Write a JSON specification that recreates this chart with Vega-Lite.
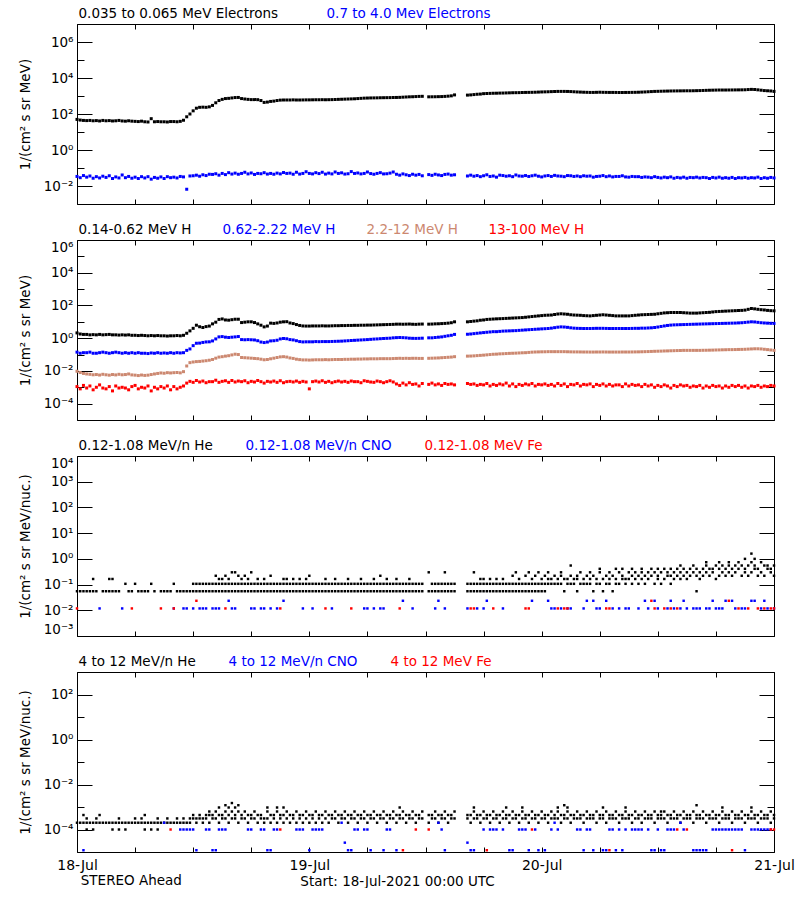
{
"$schema": "https://vega.github.io/schema/vega-lite/v6.json",
"padding": {"left": 17, "top": 6, "right": 0, "bottom": 0},
"background": "#ffffff",
"spacing": 36,
"bounds": "flush",
"title": {"text": "STEREO Ahead", "orient": "bottom", "anchor": "start", "offset": -14, "dx": 63, "font": "DejaVu Sans", "fontSize": 13.5, "fontWeight": "normal", "color": "#000000"},
"resolve": {"scale": {"color": "independent"}, "legend": {"color": "independent"}},
"datasets": {"d": [
{"t":"2021-07-18T00:00","a":50,"b":0.034,"c":2.1,"d":0.14,"e":0.0095,"f":0.0011,"g":0.055,"m":0.0118,"p":0.0002},
{"t":"2021-07-18T00:20","a":46,"b":0.029,"c":1.8,"d":0.12,"e":0.008,"f":0.0008,"g":0.055,"p":0.0002},
{"t":"2021-07-18T00:40","a":44,"b":0.038,"c":1.7,"d":0.13,"e":0.007,"f":0.0013,"g":0.055,"p":0.0002,"p2":0.00044,"q":0.000012},
{"t":"2021-07-18T01:00","a":43,"b":0.031,"c":1.7,"d":0.13,"e":0.0065,"f":0.0009,"g":0.055,"p":0.0002,"p2":0.00031,"p3":0.0001},
{"t":"2021-07-18T01:20","a":44,"b":0.036,"c":1.6,"d":0.14,"e":0.0062,"f":0.0012,"g":0.055,"p":0.0002},
{"t":"2021-07-18T01:40","a":42,"b":0.027,"c":1.65,"d":0.12,"e":0.0058,"f":0.0007,"g":0.055,"g2":0.165,"p":0.0002,"p3":0.0001},
{"t":"2021-07-18T02:00","a":43,"b":0.033,"c":1.6,"d":0.12,"e":0.006,"f":0.001,"g":0.055,"p":0.0002,"p2":0.00031},
{"t":"2021-07-18T02:20","a":41,"b":0.028,"c":1.7,"d":0.13,"e":0.0056,"f":0.0014,"k":0.0118,"p":0.0002,"p2":0.00044},
{"t":"2021-07-18T02:40","a":44,"b":0.035,"c":1.6,"d":0.14,"e":0.0062,"f":0.0009,"g":0.055,"p":0.0002},
{"t":"2021-07-18T03:00","a":42,"b":0.03,"c":1.65,"d":0.13,"e":0.0058,"f":0.0008,"g":0.055,"p":0.0002},
{"t":"2021-07-18T03:20","a":43,"b":0.037,"c":1.7,"d":0.12,"e":0.0055,"f":0.0011,"g":0.055,"g2":0.165,"p":0.0002},
{"t":"2021-07-18T03:40","a":41,"b":0.026,"c":1.6,"d":0.13,"e":0.006,"f":0.0006,"g":0.055,"g2":0.165,"p":0.0002,"p3":0.0001},
{"t":"2021-07-18T04:00","a":42,"b":0.032,"c":1.6,"d":0.14,"e":0.0057,"f":0.0012,"g":0.055,"p":0.0002},
{"t":"2021-07-18T04:20","a":44,"b":0.028,"c":1.55,"d":0.13,"e":0.0062,"f":0.0009,"g":0.055,"p":0.0002,"p2":0.00031,"p3":0.0001},
{"t":"2021-07-18T04:40","a":41,"b":0.041,"c":1.6,"d":0.12,"e":0.0058,"f":0.001,"k":0.0118,"p":0.0002},
{"t":"2021-07-18T05:00","a":40,"b":0.029,"c":1.55,"d":0.13,"e":0.006,"f":0.0009,"g":0.107,"p":0.0002,"p3":0.0001},
{"t":"2021-07-18T05:20","a":42,"b":0.034,"c":1.6,"d":0.12,"e":0.0065,"f":0.0007,"g":0.055,"p":0.0002},
{"t":"2021-07-18T05:40","a":40,"b":0.027,"c":1.5,"d":0.13,"e":0.0057,"f":0.0011,"g":0.055,"m":0.0118,"p":0.0002},
{"t":"2021-07-18T06:00","a":39,"b":0.031,"c":1.5,"d":0.12,"e":0.0055,"f":0.0013,"g":0.107,"p":0.0002,"p2":0.00031},
{"t":"2021-07-18T06:20","a":38,"b":0.026,"c":1.45,"d":0.13,"e":0.0052,"f":0.0008,"g":0.055,"p":0.0002},
{"t":"2021-07-18T06:40","a":40,"b":0.033,"c":1.5,"d":0.12,"e":0.0056,"f":0.001,"g":0.055,"p":0.0002,"p2":0.00031},
{"t":"2021-07-18T07:00","a":37,"b":0.028,"c":1.45,"d":0.12,"e":0.0053,"f":0.0009,"g":0.055,"p":0.0002,"p2":0.00044,"p3":0.0001},
{"t":"2021-07-18T07:20","a":36,"b":0.033,"c":1.4,"d":0.115,"e":0.0055,"f":0.0012,"g":0.055,"p":0.0002},
{"t":"2021-07-18T07:40","a":55,"b":0.024,"c":1.45,"d":0.125,"e":0.006,"f":0.0006,"g":0.107,"p":0.0002,"p3":0.0001},
{"t":"2021-07-18T08:00","a":37,"b":0.03,"c":1.4,"d":0.12,"e":0.0065,"f":0.001,"g":0.055,"p":0.0002},
{"t":"2021-07-18T08:20","a":38,"b":0.027,"c":1.45,"d":0.13,"e":0.007,"f":0.0008,"p":0.0002,"p2":0.00031,"p3":0.0001},
{"t":"2021-07-18T08:40","a":37,"b":0.032,"c":1.4,"d":0.12,"e":0.0075,"f":0.0011,"g":0.055,"m":0.0118,"p":0.0002},
{"t":"2021-07-18T09:00","a":37,"b":0.026,"c":1.4,"d":0.125,"e":0.0072,"f":0.0009,"g":0.055,"p":0.0002,"q":0.0002},
{"t":"2021-07-18T09:20","a":36,"b":0.033,"c":1.35,"d":0.12,"e":0.0078,"f":0.0012,"g":0.055,"p":0.0002,"p2":0.00031},
{"t":"2021-07-18T09:40","a":38,"b":0.029,"c":1.4,"d":0.13,"e":0.0075,"f":0.0007,"g":0.055,"p":0.0002,"r":0.0001},
{"t":"2021-07-18T10:00","a":38,"b":0.031,"c":1.4,"d":0.12,"e":0.0078,"f":0.0011,"g":0.107,"k":0.0118,"m":0.0118,"p":0.0002},
{"t":"2021-07-18T10:20","a":37,"b":0.028,"c":1.45,"d":0.13,"e":0.008,"f":0.0008,"g":0.055,"p":0.0002,"p2":0.00031},
{"t":"2021-07-18T10:40","a":39,"b":0.034,"c":1.4,"d":0.125,"e":0.0076,"f":0.001,"g":0.055,"p":0.0002,"q":0.0001},
{"t":"2021-07-18T11:00","a":45,"b":0.032,"c":1.5,"d":0.13,"e":0.009,"f":0.0012,"g":0.055,"k":0.0118,"p":0.0002,"p2":0.00031,"q":0.0001},
{"t":"2021-07-18T11:20","a":70,"b":0.0066,"c":2.0,"d":0.18,"e":0.02,"f":0.0018,"g":0.055,"k":0.0118,"p":0.0002,"q":0.0001},
{"t":"2021-07-18T11:40","a":100,"b":0.036,"c":2.8,"d":0.22,"e":0.032,"f":0.0023,"g":0.055,"p":0.0002,"p2":0.00031,"q":0.0001},
{"t":"2021-07-18T12:00","a":150,"b":0.037,"c":4,"d":0.35,"e":0.035,"f":0.002,"g":0.055,"g2":0.107,"k":0.0118,"p":0.00031,"p2":0.00044,"q":0.0001},
{"t":"2021-07-18T12:20","a":210,"b":0.04,"c":6.2,"d":0.49,"e":0.037,"f":0.0026,"g":0.055,"g2":0.107,"m":0.0234,"p":0.0002,"p2":0.00031,"q":0.000012},
{"t":"2021-07-18T12:40","a":235,"b":0.035,"c":5,"d":0.5,"e":0.038,"f":0.0021,"g":0.055,"g2":0.107,"k":0.0118,"p":0.00031,"p2":0.00044},
{"t":"2021-07-18T13:00","a":240,"b":0.042,"c":4.5,"d":0.55,"e":0.04,"f":0.0024,"g":0.055,"g2":0.107,"k":0.0118,"p":0.0002,"p2":0.00031},
{"t":"2021-07-18T13:20","a":235,"b":0.038,"c":5.1,"d":0.59,"e":0.042,"f":0.0019,"g":0.055,"g2":0.107,"k":0.0118,"p":0.00031,"p2":0.00044,"q":0.0001},
{"t":"2021-07-18T13:40","a":250,"b":0.045,"c":5.5,"d":0.6,"e":0.045,"f":0.0022,"g":0.055,"g2":0.107,"p":0.0002,"p2":0.00044,"p3":0.00063,"q":0.0001},
{"t":"2021-07-18T14:00","a":300,"b":0.044,"c":7.5,"d":0.68,"e":0.05,"f":0.0022,"g":0.055,"g2":0.107,"k":0.0118,"p":0.00031,"p2":0.00044,"q":0.000012},
{"t":"2021-07-18T14:20","a":420,"b":0.048,"c":9.5,"d":0.9,"e":0.06,"f":0.0027,"g":0.055,"g2":0.107,"g3":0.22,"k":0.0118,"p":0.00031,"p2":0.00063,"q":0.000012},
{"t":"2021-07-18T14:40","a":560,"b":0.04,"c":14,"d":1.2,"e":0.07,"f":0.002,"g":0.055,"g2":0.107,"g3":0.165,"k":0.0118,"p":0.0002,"p2":0.00044,"p3":0.00095,"q":0.0001},
{"t":"2021-07-18T15:00","a":650,"b":0.05,"c":15,"d":1.25,"e":0.074,"f":0.0023,"g":0.055,"g2":0.107,"g3":0.165,"p":0.00031,"p2":0.00044,"q":0.0001},
{"t":"2021-07-18T15:20","a":720,"b":0.043,"c":13,"d":1.15,"e":0.08,"f":0.0025,"g":0.055,"g2":0.107,"g3":0.22,"m":0.0118,"p":0.00031,"p2":0.00063,"p3":0.0012,"q":0.0001},
{"t":"2021-07-18T15:40","a":740,"b":0.055,"c":12.6,"d":1.1,"e":0.085,"f":0.002,"g":0.055,"g2":0.107,"g3":0.165,"k":0.0234,"p":0.0002,"p2":0.00044,"p3":0.00095},
{"t":"2021-07-18T16:00","a":780,"b":0.046,"c":13.5,"d":1.15,"e":0.095,"f":0.0026,"g":0.055,"g2":0.107,"g3":0.3,"k":0.0118,"p":0.00031,"p2":0.00063,"p3":0.0015},
{"t":"2021-07-18T16:20","a":820,"b":0.052,"c":14.4,"d":1.2,"e":0.105,"f":0.0021,"g":0.055,"g2":0.107,"g3":0.3,"k":0.0118,"p":0.00031,"p2":0.00044,"p3":0.00095},
{"t":"2021-07-18T16:40","a":830,"b":0.045,"c":14.4,"d":1.26,"e":0.1,"f":0.0024,"g":0.055,"g2":0.107,"g3":0.22,"p":0.0002,"p2":0.00063,"p3":0.0012},
{"t":"2021-07-18T17:00","a":720,"b":0.05,"c":9,"d":0.82,"e":0.066,"f":0.0022,"g":0.055,"g2":0.107,"g3":0.165,"p":0.00031,"p2":0.00044},
{"t":"2021-07-18T17:20","a":680,"b":0.058,"c":9.5,"d":0.8,"e":0.064,"f":0.0025,"g":0.055,"g2":0.107,"g3":0.22,"p":0.00031,"p2":0.00063},
{"t":"2021-07-18T17:40","a":650,"b":0.047,"c":10,"d":0.82,"e":0.062,"f":0.0019,"g":0.055,"g2":0.107,"g3":0.165,"p":0.0002,"p2":0.00044,"q":0.0001},
{"t":"2021-07-18T18:00","a":630,"b":0.053,"c":10,"d":0.8,"e":0.06,"f":0.0023,"g":0.055,"g2":0.107,"g3":0.3,"k":0.0118,"p":0.00031,"p2":0.00044,"q":0.0001},
{"t":"2021-07-18T18:20","a":630,"b":0.044,"c":9,"d":0.78,"e":0.058,"f":0.0021,"g":0.055,"g2":0.107,"k":0.0118,"p":0.00031,"p2":0.00063},
{"t":"2021-07-18T18:40","a":625,"b":0.05,"c":7.5,"d":0.7,"e":0.056,"f":0.0026,"g":0.055,"g2":0.107,"g3":0.165,"p":0.0002,"p2":0.00044},
{"t":"2021-07-18T19:00","a":560,"b":0.048,"c":6.2,"d":0.58,"e":0.052,"f":0.0022,"g":0.055,"g2":0.107,"k":0.0118,"p":0.00031,"p2":0.00044,"q":0.0001},
{"t":"2021-07-18T19:20","a":440,"b":0.055,"c":4.9,"d":0.54,"e":0.048,"f":0.0018,"g":0.055,"g2":0.107,"g3":0.165,"k":0.0118,"p":0.0002,"p2":0.00031,"q":0.0001},
{"t":"2021-07-18T19:40","a":460,"b":0.046,"c":5.5,"d":0.58,"e":0.05,"f":0.0023,"g":0.055,"g2":0.107,"p":0.00031,"p2":0.00063,"p3":0.00095,"q":0.000012},
{"t":"2021-07-18T20:00","a":500,"b":0.05,"c":8.3,"d":0.68,"e":0.055,"f":0.0021,"g":0.055,"g2":0.107,"g3":0.22,"k":0.0118,"p":0.0002,"p2":0.00044,"q":0.000012},
{"t":"2021-07-18T20:20","a":520,"b":0.045,"c":8,"d":0.7,"e":0.06,"f":0.0024,"g":0.055,"g2":0.107,"p":0.00031,"p2":0.00044,"q":0.0001},
{"t":"2021-07-18T20:40","a":560,"b":0.052,"c":8.5,"d":0.75,"e":0.066,"f":0.002,"g":0.055,"g2":0.107,"k":0.0118,"p":0.0002,"p2":0.00063,"p3":0.00095,"q":0.0001},
{"t":"2021-07-18T21:00","a":590,"b":0.047,"c":9.5,"d":0.9,"e":0.072,"f":0.0025,"g":0.055,"g2":0.107,"m":0.0118,"p":0.00031,"p2":0.00044,"r":0.0001},
{"t":"2021-07-18T21:20","a":600,"b":0.056,"c":10,"d":0.96,"e":0.074,"f":0.0019,"g":0.055,"g2":0.107,"g3":0.165,"k":0.0234,"p":0.0002,"p2":0.00044,"p3":0.00095},
{"t":"2021-07-18T21:40","a":600,"b":0.05,"c":10.2,"d":0.92,"e":0.07,"f":0.0022,"g":0.055,"g2":0.107,"g3":0.165,"p":0.00031,"p2":0.00063},
{"t":"2021-07-18T22:00","a":600,"b":0.052,"c":8.5,"d":0.82,"e":0.062,"f":0.0023,"g":0.055,"g2":0.107,"p":0.0002,"p2":0.00044},
{"t":"2021-07-18T22:20","a":610,"b":0.045,"c":7.8,"d":0.78,"e":0.058,"f":0.0021,"g":0.055,"g2":0.107,"g3":0.165,"p":0.00031,"p2":0.00044},
{"t":"2021-07-18T22:40","a":600,"b":0.058,"c":6.8,"d":0.7,"e":0.052,"f":0.0024,"g":0.055,"g2":0.107,"p":0.0002,"p2":0.00063,"q":0.0001},
{"t":"2021-07-18T23:00","a":600,"b":0.046,"c":6,"d":0.62,"e":0.049,"f":0.002,"g":0.055,"g2":0.107,"g3":0.165,"p":0.00031,"p2":0.00044,"q":0.0001},
{"t":"2021-07-18T23:20","a":605,"b":0.05,"c":5.6,"d":0.59,"e":0.047,"f":0.0023,"g":0.055,"g2":0.107,"k":0.0118,"p":0.0002,"p2":0.00044,"q":0.0001},
{"t":"2021-07-18T23:40","a":610,"b":0.062,"c":5.5,"d":0.6,"e":0.047,"f":0.0021,"g":0.055,"g2":0.107,"g3":0.165,"p":0.00031,"p2":0.00063},
{"t":"2021-07-19T00:00","a":610,"b":0.05,"c":5.5,"d":0.6,"e":0.046,"f":0.0008,"g":0.055,"g2":0.107,"g3":0.22,"p":0.0002,"p2":0.00044,"q":0.000012},
{"t":"2021-07-19T00:20","a":615,"b":0.047,"c":5.6,"d":0.6,"e":0.047,"f":0.0022,"g":0.055,"g2":0.107,"k":0.0118,"p":0.00031,"p2":0.00044,"q":0.0001},
{"t":"2021-07-19T00:40","a":620,"b":0.055,"c":5.6,"d":0.62,"e":0.048,"f":0.0024,"g":0.055,"g2":0.107,"p":0.0002,"p2":0.00063,"q":0.0001},
{"t":"2021-07-19T01:00","a":620,"b":0.049,"c":5.6,"d":0.61,"e":0.048,"f":0.0021,"g":0.055,"g2":0.107,"p":0.00031,"p2":0.00044,"q":0.0001},
{"t":"2021-07-19T01:20","a":625,"b":0.058,"c":5.7,"d":0.62,"e":0.048,"f":0.0025,"g":0.055,"g2":0.107,"p":0.0002,"p2":0.00044,"q":0.0001},
{"t":"2021-07-19T01:40","a":620,"b":0.046,"c":5.6,"d":0.62,"e":0.049,"f":0.002,"g":0.055,"g2":0.107,"g3":0.165,"m":0.0118,"p":0.00031,"p2":0.00063},
{"t":"2021-07-19T02:00","a":625,"b":0.052,"c":5.6,"d":0.62,"e":0.048,"f":0.0023,"g":0.055,"g2":0.107,"p":0.0002,"p2":0.00044},
{"t":"2021-07-19T02:20","a":630,"b":0.047,"c":5.7,"d":0.63,"e":0.049,"f":0.0019,"g":0.055,"g2":0.107,"k":0.0118,"p":0.00031,"p2":0.00044},
{"t":"2021-07-19T02:40","a":640,"b":0.06,"c":5.8,"d":0.64,"e":0.05,"f":0.0022,"g":0.055,"g2":0.107,"g3":0.165,"p":0.00031,"p2":0.00063},
{"t":"2021-07-19T03:00","a":650,"b":0.05,"c":5.8,"d":0.65,"e":0.05,"f":0.0024,"g":0.055,"g2":0.107,"p":0.0002,"p2":0.00044},
{"t":"2021-07-19T03:20","a":660,"b":0.054,"c":5.9,"d":0.66,"e":0.05,"f":0.0021,"g":0.055,"g2":0.107,"p":0.00031,"p2":0.00044,"q":0.0002},
{"t":"2021-07-19T03:40","a":670,"b":0.046,"c":5.9,"d":0.68,"e":0.051,"f":0.0023,"g":0.055,"g2":0.107,"p":0.00031,"p2":0.00063,"q":0.000026},
{"t":"2021-07-19T04:00","a":680,"b":0.048,"c":6,"d":0.7,"e":0.051,"f":0.002,"g":0.055,"g2":0.107,"g3":0.165,"p":0.0002,"p2":0.00044,"q":0.000012},
{"t":"2021-07-19T04:20","a":690,"b":0.063,"c":6,"d":0.72,"e":0.052,"f":0.0024,"g":0.055,"g2":0.107,"m":0.0118,"p":0.00031,"p2":0.00044,"q":0.000012},
{"t":"2021-07-19T04:40","a":700,"b":0.05,"c":6.1,"d":0.74,"e":0.052,"f":0.0022,"g":0.055,"g2":0.107,"p":0.00031,"p2":0.00063,"q":0.0001},
{"t":"2021-07-19T05:00","a":720,"b":0.053,"c":6.1,"d":0.76,"e":0.053,"f":0.0022,"g":0.055,"g2":0.107,"p":0.0002,"p2":0.00044,"q":0.0001},
{"t":"2021-07-19T05:20","a":740,"b":0.047,"c":6.2,"d":0.78,"e":0.053,"f":0.0019,"g":0.055,"g2":0.107,"g3":0.165,"p":0.00031,"p2":0.00044},
{"t":"2021-07-19T05:40","a":760,"b":0.05,"c":6.2,"d":0.8,"e":0.054,"f":0.0025,"g":0.055,"g2":0.107,"k":0.0118,"p":0.00031,"p2":0.00063,"q":0.0001},
{"t":"2021-07-19T06:00","a":770,"b":0.06,"c":6.3,"d":0.82,"e":0.054,"f":0.0023,"g":0.055,"g2":0.107,"k":0.0118,"p":0.0002,"p2":0.00044,"q":0.0001},
{"t":"2021-07-19T06:20","a":780,"b":0.049,"c":6.3,"d":0.85,"e":0.055,"f":0.0021,"g":0.055,"g2":0.107,"p":0.00031,"p2":0.00044,"q":0.000012},
{"t":"2021-07-19T06:40","a":785,"b":0.045,"c":6.4,"d":0.88,"e":0.055,"f":0.002,"g":0.055,"g2":0.107,"g3":0.165,"k":0.0118,"p":0.00031,"p2":0.00063},
{"t":"2021-07-19T07:00","a":790,"b":0.05,"c":6.5,"d":0.9,"e":0.055,"f":0.0024,"g":0.055,"g2":0.107,"p":0.0002,"p2":0.00044},
{"t":"2021-07-19T07:20","a":800,"b":0.055,"c":6.6,"d":0.93,"e":0.056,"f":0.0022,"g":0.055,"g2":0.107,"g3":0.22,"k":0.0118,"p":0.00031,"p2":0.00044},
{"t":"2021-07-19T07:40","a":805,"b":0.047,"c":6.7,"d":0.96,"e":0.056,"f":0.0019,"g":0.055,"g2":0.107,"k":0.0118,"p":0.00031,"p2":0.00063,"q":0.000012},
{"t":"2021-07-19T08:00","a":810,"b":0.048,"c":6.8,"d":0.98,"e":0.056,"f":0.0022,"g":0.055,"g2":0.107,"g3":0.165,"p":0.0002,"p2":0.00044,"q":0.0001},
{"t":"2021-07-19T08:20","a":815,"b":0.052,"c":6.9,"d":1,"e":0.056,"f":0.0025,"g":0.055,"g2":0.107,"p":0.00031,"p2":0.00044,"q":0.0001},
{"t":"2021-07-19T08:40","a":825,"b":0.06,"c":7,"d":1.05,"e":0.057,"f":0.0021,"g":0.055,"g2":0.107,"p":0.00031,"p2":0.00063},
{"t":"2021-07-19T09:00","a":830,"b":0.045,"c":7.2,"d":1.08,"e":0.058,"f":0.0016,"g":0.055,"g2":0.107,"g3":0.165,"p":0.0002,"p2":0.00044,"q":0.000012},
{"t":"2021-07-19T09:20","a":840,"b":0.04,"c":7.2,"d":1.1,"e":0.059,"f":0.0013,"g":0.055,"g2":0.107,"m":0.0118,"p":0.00031,"p2":0.00044,"p3":0.00095},
{"t":"2021-07-19T09:40","a":860,"b":0.047,"c":7.1,"d":1.08,"e":0.058,"f":0.0018,"g":0.055,"g2":0.107,"k":0.0234,"p":0.00031,"p2":0.00063,"r":0.000012},
{"t":"2021-07-19T10:00","a":880,"b":0.042,"c":7.2,"d":1.05,"e":0.059,"f":0.0014,"g":0.055,"g2":0.107,"p":0.0002,"p2":0.00044},
{"t":"2021-07-19T10:20","a":900,"b":0.038,"c":7.3,"d":1,"e":0.058,"f":0.0019,"g":0.055,"g2":0.107,"g3":0.165,"p":0.00031,"p2":0.00044},
{"t":"2021-07-19T10:40","a":910,"b":0.045,"c":7.1,"d":0.98,"e":0.059,"f":0.0015,"g":0.055,"g2":0.107,"k":0.0118,"p":0.00031,"p2":0.00063},
{"t":"2021-07-19T11:00","a":930,"b":0.04,"c":7,"d":0.97,"e":0.059,"f":0.0016,"g":0.055,"g2":0.107,"p":0.0002,"p2":0.00044,"r":0.0001},
{"t":"2021-07-19T11:20","a":950,"b":0.044,"c":7.2,"d":0.98,"e":0.058,"f":0.0012,"g":0.055,"g2":0.107,"p":0.00031,"p2":0.00044},
{"t":"2021-07-19T11:40","a":960,"b":0.037,"c":7.3,"d":1,"e":0.058,"f":0.0017,"g":0.055,"g2":0.107,"p":0.00031,"p2":0.00063},
{"t":"2021-07-19T12:20","a":900,"b":0.043,"c":7.2,"d":1.05,"e":0.059,"f":0.0015,"g":0.055,"g2":0.3,"p":0.0002,"p2":0.00044,"r":0.0001},
{"t":"2021-07-19T12:40","a":905,"b":0.039,"c":7.3,"d":1.05,"e":0.06,"f":0.0018,"g":0.055,"g2":0.107,"p":0.00031,"p2":0.00044},
{"t":"2021-07-19T13:00","a":910,"b":0.045,"c":7.5,"d":1.1,"e":0.061,"f":0.0014,"g":0.055,"g2":0.107,"k":0.0118,"p":0.00031,"p2":0.00063},
{"t":"2021-07-19T13:20","a":920,"b":0.041,"c":7.6,"d":1.15,"e":0.062,"f":0.0016,"g":0.055,"g2":0.107,"k":0.0234,"p":0.0002,"p2":0.00044,"q":0.0002},
{"t":"2021-07-19T13:40","a":930,"b":0.038,"c":7.8,"d":1.2,"e":0.064,"f":0.0013,"g":0.055,"g2":0.107,"p":0.00031,"p2":0.00044,"q":0.0001},
{"t":"2021-07-19T14:00","a":950,"b":0.044,"c":8,"d":1.3,"e":0.066,"f":0.0017,"g":0.055,"g2":0.107,"g3":0.3,"k":0.0118,"p":0.00031,"p2":0.00063,"q":0.000012},
{"t":"2021-07-19T14:20","a":980,"b":0.046,"c":8.3,"d":1.4,"e":0.068,"f":0.0015,"g":0.055,"g2":0.107,"p":0.0002,"p2":0.00044},
{"t":"2021-07-19T14:40","a":1020,"b":0.04,"c":8.8,"d":1.5,"e":0.07,"f":0.0016,"g":0.055,"g2":0.107,"p":0.00031,"p2":0.00044},
{"t":"2021-07-19T15:00","a":1150,"b":0.042,"c":10,"d":1.7,"e":0.074,"f":0.0014,"g":0.055,"g2":0.107,"p":0.00031,"p2":0.00063},
{"t":"2021-07-19T16:20","a":1120,"b":0.036,"c":10,"d":1.74,"e":0.08,"f":0.0017,"g":0.055,"g2":0.107,"k":0.0118,"p":0.00031,"p2":0.00044,"q":0.000026},
{"t":"2021-07-19T16:40","a":1150,"b":0.04,"c":10.5,"d":1.8,"e":0.081,"f":0.0015,"g":0.055,"g2":0.107,"m":0.0118,"p":0.0002,"p2":0.00044,"q":0.000012},
{"t":"2021-07-19T17:00","a":1200,"b":0.035,"c":11,"d":1.9,"e":0.083,"f":0.0016,"g":0.055,"g2":0.107,"g3":0.3,"m":0.0118,"p":0.00031,"p2":0.00063,"p3":0.00095,"q":0.000012},
{"t":"2021-07-19T17:20","a":1250,"b":0.038,"c":11.5,"d":2,"e":0.086,"f":0.0013,"g":0.055,"g2":0.107,"k":0.0118,"p":0.00031,"p2":0.00044},
{"t":"2021-07-19T17:40","a":1280,"b":0.033,"c":12.5,"d":2.1,"e":0.089,"f":0.0015,"g":0.055,"g2":0.107,"g3":0.165,"p":0.0002,"p2":0.00044},
{"t":"2021-07-19T18:00","a":1350,"b":0.037,"c":13,"d":2.2,"e":0.092,"f":0.0014,"g":0.055,"g2":0.107,"g3":0.165,"k":0.0118,"p":0.00031,"p2":0.00063,"q":0.0001},
{"t":"2021-07-19T18:20","a":1380,"b":0.042,"c":14,"d":2.3,"e":0.096,"f":0.0017,"g":0.055,"g2":0.107,"k":0.0234,"p":0.00031,"p2":0.00044,"r":0.000012},
{"t":"2021-07-19T18:40","a":1400,"b":0.034,"c":14.4,"d":2.4,"e":0.1,"f":0.0012,"g":0.055,"g2":0.107,"g3":0.165,"p":0.0002,"p2":0.00044,"q":0.0001},
{"t":"2021-07-19T19:00","a":1420,"b":0.036,"c":14.8,"d":2.5,"e":0.104,"f":0.0015,"g":0.055,"g2":0.107,"m":0.0118,"p":0.00031,"p2":0.00063,"q":0.0001},
{"t":"2021-07-19T19:20","a":1430,"b":0.031,"c":15.2,"d":2.5,"e":0.106,"f":0.0013,"g":0.055,"g2":0.107,"g3":0.165,"p":0.00031,"p2":0.00044,"q":0.0001},
{"t":"2021-07-19T19:40","a":1450,"b":0.04,"c":15.5,"d":2.6,"e":0.11,"f":0.0016,"g":0.055,"g2":0.107,"p":0.0002,"p2":0.00044},
{"t":"2021-07-19T20:00","a":1460,"b":0.038,"c":15.8,"d":2.7,"e":0.112,"f":0.0014,"g":0.055,"g2":0.107,"g3":0.165,"k":0.0118,"p":0.00031,"p2":0.00063,"q":0.0001},
{"t":"2021-07-19T20:20","a":1480,"b":0.035,"c":16.2,"d":2.75,"e":0.115,"f":0.0018,"g":0.055,"g2":0.107,"p":0.00031,"p2":0.00044,"p3":0.00095},
{"t":"2021-07-19T20:40","a":1500,"b":0.037,"c":16.6,"d":2.8,"e":0.118,"f":0.0012,"g":0.055,"g2":0.107,"p":0.0002,"p2":0.00044,"q":0.000012},
{"t":"2021-07-19T21:00","a":1520,"b":0.033,"c":17,"d":2.85,"e":0.12,"f":0.0016,"g":0.055,"g2":0.107,"g3":0.22,"p":0.00031,"p2":0.00063,"q":0.000012},
{"t":"2021-07-19T21:20","a":1530,"b":0.041,"c":17.4,"d":2.9,"e":0.122,"f":0.0011,"g":0.055,"g2":0.107,"g3":0.3,"p":0.00031,"p2":0.00044},
{"t":"2021-07-19T21:40","a":1540,"b":0.036,"c":17.8,"d":3,"e":0.125,"f":0.0015,"g":0.055,"g2":0.107,"g3":0.165,"p":0.0002,"p2":0.00044,"q":0.0001},
{"t":"2021-07-19T22:00","a":1560,"b":0.035,"c":18.2,"d":3.1,"e":0.128,"f":0.0013,"g":0.055,"g2":0.107,"p":0.00031,"p2":0.00063,"p3":0.00095,"q":0.0001},
{"t":"2021-07-19T22:20","a":1580,"b":0.038,"c":19,"d":3.2,"e":0.13,"f":0.0016,"g":0.055,"g2":0.107,"g3":0.22,"m":0.0118,"p":0.00031,"p2":0.00044,"q":0.0001},
{"t":"2021-07-19T22:40","a":1590,"b":0.034,"c":20,"d":3.3,"e":0.135,"f":0.0014,"g":0.055,"g2":0.107,"g3":0.3,"m":0.0118,"p":0.0002,"p2":0.00044,"q":0.000012},
{"t":"2021-07-19T23:00","a":1600,"b":0.037,"c":21,"d":3.4,"e":0.14,"f":0.0017,"g":0.055,"g2":0.107,"g3":0.165,"k":0.0234,"p":0.00031,"p2":0.00063,"r":0.0001},
{"t":"2021-07-19T23:20","a":1620,"b":0.04,"c":22,"d":3.5,"e":0.143,"f":0.0012,"g":0.055,"g2":0.107,"g3":0.22,"p":0.00031,"p2":0.00044,"q":0.0001},
{"t":"2021-07-19T23:40","a":1650,"b":0.035,"c":23,"d":3.6,"e":0.145,"f":0.0015,"g":0.055,"g2":0.107,"g3":0.3,"p":0.0002,"p2":0.00044,"q":0.000012},
{"t":"2021-07-20T00:00","a":1680,"b":0.032,"c":24,"d":3.7,"e":0.147,"f":0.0014,"g":0.055,"g2":0.107,"g3":0.165,"p":0.00031,"p2":0.00063},
{"t":"2021-07-20T00:20","a":1700,"b":0.036,"c":25,"d":3.8,"e":0.148,"f":0.0016,"g":0.055,"g2":0.107,"g3":0.22,"p":0.00031,"p2":0.00044,"q":0.000012},
{"t":"2021-07-20T00:40","a":1720,"b":0.038,"c":25.5,"d":3.9,"e":0.15,"f":0.0013,"g":0.107,"g2":0.165,"g3":0.3,"k":0.0234,"p":0.0002,"p2":0.00044},
{"t":"2021-07-20T01:00","a":1750,"b":0.034,"c":26,"d":4.1,"e":0.15,"f":0.0015,"g":0.107,"g2":0.165,"k":0.0118,"p":0.00031,"p2":0.00063,"q":0.0001},
{"t":"2021-07-20T01:20","a":1780,"b":0.039,"c":28,"d":4.4,"e":0.15,"f":0.0012,"g":0.107,"g2":0.22,"k":0.0118,"p":0.00031,"p2":0.00044,"q":0.0002},
{"t":"2021-07-20T01:40","a":1800,"b":0.036,"c":30,"d":4.7,"e":0.15,"f":0.0017,"g":0.107,"g2":0.165,"m":0.0118,"p":0.00031,"p2":0.00063,"p3":0.00095,"q":0.0001},
{"t":"2021-07-20T02:00","a":1800,"b":0.035,"c":31,"d":4.9,"e":0.15,"f":0.0013,"g":0.107,"g2":0.22,"g3":0.3,"k":0.0118,"p":0.0002,"p2":0.00044},
{"t":"2021-07-20T02:20","a":1800,"b":0.033,"c":30,"d":4.8,"e":0.15,"f":0.0016,"g":0.055,"g2":0.165,"m":0.0118,"p":0.00031,"p2":0.00044,"p3":0.0012},
{"t":"2021-07-20T02:40","a":1790,"b":0.038,"c":29,"d":4.6,"e":0.148,"f":0.0011,"g":0.107,"g2":0.165,"k":0.0118,"m":0.0118,"p":0.00031,"p2":0.00063,"p3":0.00095},
{"t":"2021-07-20T03:00","a":1760,"b":0.037,"c":27,"d":4.3,"e":0.146,"f":0.0015,"g":0.107,"g2":0.22,"g3":0.55,"k":0.0118,"p":0.0002,"p2":0.00044},
{"t":"2021-07-20T03:20","a":1720,"b":0.034,"c":26,"d":4.1,"e":0.145,"f":0.0014,"g":0.107,"g2":0.165,"p":0.00031,"p2":0.00044},
{"t":"2021-07-20T03:40","a":1680,"b":0.036,"c":25.5,"d":4,"e":0.145,"f":0.0017,"g":0.055,"g2":0.165,"g3":0.22,"p":0.00031,"p2":0.00063,"q":0.0001},
{"t":"2021-07-20T04:00","a":1650,"b":0.033,"c":25,"d":3.95,"e":0.144,"f":0.0012,"g":0.107,"g2":0.3,"p":0.00031,"p2":0.00044,"q":0.0001},
{"t":"2021-07-20T04:20","a":1620,"b":0.037,"c":24,"d":3.9,"e":0.143,"f":0.0015,"g":0.107,"g2":0.165,"k":0.0118,"p":0.0002,"p2":0.00044,"q":0.000012},
{"t":"2021-07-20T04:40","a":1600,"b":0.035,"c":23.5,"d":3.9,"e":0.143,"f":0.0014,"g":0.107,"g2":0.22,"k":0.0234,"p":0.00031,"p2":0.00063,"q":0.0001},
{"t":"2021-07-20T05:00","a":1580,"b":0.036,"c":23,"d":3.9,"e":0.142,"f":0.0016,"g":0.107,"g2":0.165,"g3":0.3,"p":0.00031,"p2":0.00044,"q":0.0001},
{"t":"2021-07-20T05:20","a":1580,"b":0.031,"c":24,"d":3.95,"e":0.142,"f":0.0011,"g":0.055,"g2":0.22,"k":0.0234,"p":0.00031,"p2":0.00044,"q":0.000012},
{"t":"2021-07-20T05:40","a":1600,"b":0.034,"c":25,"d":4,"e":0.143,"f":0.0015,"g":0.107,"g2":0.165,"k":0.0118,"p":0.0002,"p2":0.00063},
{"t":"2021-07-20T06:00","a":1620,"b":0.035,"c":26,"d":4,"e":0.143,"f":0.0013,"g":0.107,"g2":0.3,"g3":0.41,"k":0.0118,"p":0.00031,"p2":0.00044},
{"t":"2021-07-20T06:20","a":1600,"b":0.038,"c":27,"d":4,"e":0.144,"f":0.0016,"g":0.055,"g2":0.165,"p":0.00031,"p2":0.00044,"p3":0.00095,"q":0.000012},
{"t":"2021-07-20T06:40","a":1590,"b":0.033,"c":26,"d":3.95,"e":0.143,"f":0.0012,"g":0.107,"g2":0.22,"k":0.0234,"m":0.0118,"p":0.0002,"p2":0.00063,"q":0.000012},
{"t":"2021-07-20T07:00","a":1580,"b":0.036,"c":25,"d":3.9,"e":0.142,"f":0.0015,"g":0.107,"g2":0.165,"g3":0.3,"m":0.0118,"p":0.00031,"p2":0.00044,"q":0.0001,"r":0.000012},
{"t":"2021-07-20T07:20","a":1580,"b":0.032,"c":24,"d":3.9,"e":0.142,"f":0.0012,"g":0.055,"g2":0.22,"k":0.0118,"p":0.00031,"p2":0.00044,"q":0.0001},
{"t":"2021-07-20T07:40","a":1575,"b":0.034,"c":23,"d":3.9,"e":0.142,"f":0.0014,"g":0.107,"g2":0.165,"g3":0.41,"p":0.00031,"p2":0.00063,"q":0.000012},
{"t":"2021-07-20T08:00","a":1570,"b":0.034,"c":23,"d":3.9,"e":0.142,"f":0.0014,"g":0.107,"g2":0.3,"k":0.0118,"p":0.0002,"p2":0.00044,"q":0.0001},
{"t":"2021-07-20T08:20","a":1570,"b":0.037,"c":23,"d":3.9,"e":0.143,"f":0.0011,"g":0.165,"g2":0.22,"g3":0.41,"p":0.00031,"p2":0.00044,"q":0.000012},
{"t":"2021-07-20T08:40","a":1575,"b":0.032,"c":23,"d":3.9,"e":0.143,"f":0.0016,"g":0.107,"g2":0.165,"k":0.0118,"p":0.00031,"p2":0.00063,"p3":0.00095,"q":0.0001},
{"t":"2021-07-20T09:00","a":1580,"b":0.031,"c":23,"d":3.9,"e":0.143,"f":0.0012,"g":0.165,"g2":0.3,"k":0.0118,"p":0.00031,"p2":0.00044},
{"t":"2021-07-20T09:20","a":1590,"b":0.034,"c":24,"d":3.95,"e":0.144,"f":0.0015,"g":0.107,"g2":0.22,"g3":0.41,"p":0.0002,"p2":0.00044,"q":0.0001},
{"t":"2021-07-20T09:40","a":1600,"b":0.033,"c":25,"d":4,"e":0.145,"f":0.0013,"g":0.165,"g2":0.3,"p":0.00031,"p2":0.00063,"q":0.0001},
{"t":"2021-07-20T10:00","a":1620,"b":0.033,"c":26,"d":4,"e":0.146,"f":0.0014,"g":0.107,"g2":0.22,"k":0.0118,"p":0.00031,"p2":0.00044,"q":0.0001},
{"t":"2021-07-20T10:20","a":1650,"b":0.03,"c":27,"d":4.1,"e":0.148,"f":0.0011,"g":0.165,"g2":0.3,"g3":0.41,"p":0.0002,"p2":0.00044,"q":0.0001},
{"t":"2021-07-20T10:40","a":1680,"b":0.032,"c":27.5,"d":4.1,"e":0.15,"f":0.0015,"g":0.107,"g2":0.22,"k":0.0234,"p":0.00031,"p2":0.00063},
{"t":"2021-07-20T11:00","a":1720,"b":0.031,"c":28,"d":4.2,"e":0.152,"f":0.0012,"g":0.165,"g2":0.3,"k":0.0118,"p":0.00031,"p2":0.00044,"q":0.0001},
{"t":"2021-07-20T11:20","a":1760,"b":0.029,"c":28.5,"d":4.3,"e":0.155,"f":0.0014,"g":0.22,"g2":0.41,"m":0.0234,"p":0.00031,"p2":0.00044,"q":0.000012},
{"t":"2021-07-20T11:40","a":1800,"b":0.033,"c":29,"d":4.5,"e":0.158,"f":0.001,"g":0.107,"g2":0.3,"k":0.0234,"m":0.0118,"p":0.0002,"p2":0.00063,"q":0.000012},
{"t":"2021-07-20T12:00","a":1820,"b":0.03,"c":31,"d":4.8,"e":0.16,"f":0.0013,"g":0.165,"g2":0.22,"g3":0.41,"k":0.0118,"p":0.00031,"p2":0.00044,"q":0.0001},
{"t":"2021-07-20T12:20","a":1840,"b":0.028,"c":33,"d":5.2,"e":0.162,"f":0.0011,"g":0.107,"g2":0.3,"p":0.00031,"p2":0.00044,"p3":0.00063,"q":0.000012},
{"t":"2021-07-20T12:40","a":1860,"b":0.031,"c":35,"d":5.6,"e":0.165,"f":0.0014,"g":0.165,"g2":0.41,"m":0.0118,"p":0.00031,"p2":0.00063,"q":0.000012},
{"t":"2021-07-20T13:00","a":1880,"b":0.029,"c":36,"d":6,"e":0.167,"f":0.0012,"g":0.22,"g2":0.3,"k":0.0118,"p":0.0002,"p2":0.00044,"q":0.0001},
{"t":"2021-07-20T13:20","a":1900,"b":0.032,"c":37,"d":6.3,"e":0.17,"f":0.0009,"g":0.107,"g2":0.22,"g3":0.41,"k":0.0234,"m":0.0118,"p":0.00031,"p2":0.00044,"q":0.0001},
{"t":"2021-07-20T13:40","a":1910,"b":0.027,"c":37,"d":6.5,"e":0.172,"f":0.0013,"g":0.165,"g2":0.3,"k":0.0118,"p":0.00031,"p2":0.00063,"q":0.0001},
{"t":"2021-07-20T14:00","a":1920,"b":0.03,"c":37,"d":6.6,"e":0.175,"f":0.0011,"g":0.22,"g2":0.41,"m":0.0118,"p":0.00031,"p2":0.00044,"r":0.0001},
{"t":"2021-07-20T14:20","a":1930,"b":0.028,"c":37,"d":6.7,"e":0.177,"f":0.0014,"g":0.165,"g2":0.3,"g3":0.55,"k":0.0118,"p":0.0002,"p2":0.00044,"q":0.0002},
{"t":"2021-07-20T14:40","a":1940,"b":0.031,"c":36,"d":6.8,"e":0.18,"f":0.0012,"g":0.22,"g2":0.41,"k":0.0234,"p":0.00031,"p2":0.00063,"q":0.0001},
{"t":"2021-07-20T15:00","a":1950,"b":0.027,"c":35,"d":6.9,"e":0.18,"f":0.0013,"g":0.165,"g2":0.3,"k":0.0118,"p":0.00031,"p2":0.00044,"r":0.0001},
{"t":"2021-07-20T15:20","a":1950,"b":0.03,"c":34,"d":7,"e":0.18,"f":0.001,"g":0.22,"g2":0.41,"p":0.00031,"p2":0.00044},
{"t":"2021-07-20T15:40","a":1960,"b":0.029,"c":34,"d":7.1,"e":0.18,"f":0.0012,"g":0.3,"g2":0.55,"k":0.0118,"p":0.0002,"p2":0.00063,"q":0.000012},
{"t":"2021-07-20T16:00","a":1980,"b":0.031,"c":34,"d":7.2,"e":0.18,"f":0.0011,"g":0.055,"g2":0.22,"g3":0.41,"k":0.0118,"p":0.00031,"p2":0.00044,"p3":0.0012,"q":0.000012},
{"t":"2021-07-20T16:20","a":2000,"b":0.028,"c":35,"d":7.3,"e":0.18,"f":0.0013,"g":0.165,"g2":0.3,"k":0.0118,"p":0.00031,"p2":0.00044,"q":0.000012},
{"t":"2021-07-20T16:40","a":2030,"b":0.03,"c":36,"d":7.4,"e":0.182,"f":0.0009,"g":0.22,"g2":0.41,"p":0.00031,"p2":0.00063,"q":0.000012},
{"t":"2021-07-20T17:00","a":2060,"b":0.029,"c":37,"d":7.5,"e":0.183,"f":0.0012,"g":0.3,"g2":0.55,"g3":0.74,"k":0.0118,"p":0.0002,"p2":0.00044,"q":0.000012},
{"t":"2021-07-20T17:20","a":2090,"b":0.026,"c":38,"d":7.6,"e":0.185,"f":0.001,"g":0.22,"g2":0.41,"k":0.0118,"p":0.00031,"p2":0.00044},
{"t":"2021-07-20T17:40","a":2110,"b":0.03,"c":40,"d":7.7,"e":0.187,"f":0.0013,"g":0.3,"g2":0.41,"k":0.0234,"p":0.00031,"p2":0.00063,"q":0.0001},
{"t":"2021-07-20T18:00","a":2130,"b":0.028,"c":42,"d":7.8,"e":0.19,"f":0.0011,"g":0.165,"g2":0.55,"k":0.0118,"p":0.00031,"p2":0.00044,"q":0.0001},
{"t":"2021-07-20T18:20","a":2150,"b":0.031,"c":43,"d":7.9,"e":0.192,"f":0.0012,"g":0.22,"g2":0.41,"g3":0.74,"k":0.0118,"p":0.0002,"p2":0.00044,"q":0.0001},
{"t":"2021-07-20T18:40","a":2150,"b":0.027,"c":44,"d":8,"e":0.195,"f":0.0009,"g":0.3,"g2":0.55,"k":0.0118,"p":0.00031,"p2":0.00063,"p3":0.00095,"q":0.0001},
{"t":"2021-07-20T19:00","a":2150,"b":0.029,"c":45,"d":8.1,"e":0.197,"f":0.0012,"g":0.22,"g2":0.41,"k":0.0234,"p":0.00031,"p2":0.00044,"q":0.0001},
{"t":"2021-07-20T19:20","a":2160,"b":0.027,"c":46,"d":8.2,"e":0.2,"f":0.001,"g":0.3,"g2":0.55,"g3":0.74,"m":0.0234,"p":0.00031,"p2":0.00044,"q":0.0001},
{"t":"2021-07-20T19:40","a":2170,"b":0.03,"c":47,"d":8.3,"e":0.2,"f":0.0013,"g":0.22,"g2":0.41,"k":0.0234,"p":0.0002,"p2":0.00063,"q":0.0001,"r":0.000012},
{"t":"2021-07-20T20:00","a":2180,"b":0.026,"c":48,"d":8.4,"e":0.202,"f":0.0011,"g":0.3,"g2":0.55,"k":0.0118,"p":0.00031,"p2":0.00044,"q":0.0001},
{"t":"2021-07-20T20:20","a":2190,"b":0.029,"c":49,"d":8.6,"e":0.205,"f":0.0013,"g":0.41,"g2":0.74,"m":0.0118,"p":0.00031,"p2":0.00044,"q":0.0001},
{"t":"2021-07-20T20:40","a":2200,"b":0.028,"c":50,"d":8.8,"e":0.207,"f":0.001,"g":0.22,"g2":0.55,"k":0.0118,"p":0.00031,"p2":0.00063,"q":0.0001},
{"t":"2021-07-20T21:00","a":2220,"b":0.03,"c":52,"d":9.2,"e":0.21,"f":0.0012,"g":0.3,"g2":0.41,"g3":1.0,"k":0.0118,"p":0.0002,"p2":0.00044,"q":0.000012},
{"t":"2021-07-20T21:20","a":2280,"b":0.027,"c":58,"d":9.6,"e":0.215,"f":0.0009,"g":0.22,"g2":0.55,"m":0.0118,"p":0.00031,"p2":0.00044},
{"t":"2021-07-20T21:40","a":2330,"b":0.029,"c":65,"d":10,"e":0.22,"f":0.0012,"g":0.3,"g2":0.74,"g3":1.6,"k":0.0234,"p":0.00031,"p2":0.00063,"p3":0.00095,"q":0.0001},
{"t":"2021-07-20T22:00","a":2300,"b":0.028,"c":62,"d":9.8,"e":0.225,"f":0.0011,"g":0.41,"g2":0.55,"g3":1.0,"k":0.0234,"p":0.00031,"p2":0.00044,"q":0.0001},
{"t":"2021-07-20T22:20","a":2200,"b":0.031,"c":58,"d":9.3,"e":0.225,"f":0.0013,"g":0.22,"g2":0.41,"m":0.0118,"p":0.0002,"p2":0.00044,"q":0.0001},
{"t":"2021-07-20T22:40","a":2100,"b":0.026,"c":55,"d":8.8,"e":0.22,"f":0.001,"g":0.3,"g2":0.74,"k":0.0118,"p":0.00031,"p2":0.00063,"q":0.0001},
{"t":"2021-07-20T23:00","a":2000,"b":0.029,"c":53,"d":8.5,"e":0.21,"f":0.0012,"g":0.22,"g2":0.55,"k":0.0234,"m":0.0118,"p":0.00031,"p2":0.00044,"q":0.0001},
{"t":"2021-07-20T23:20","a":1950,"b":0.027,"c":50,"d":8.3,"e":0.2,"f":0.0011,"g":0.41,"g2":0.55,"k":0.0118,"p":0.00031,"p2":0.00044,"q":0.0001},
{"t":"2021-07-20T23:40","a":1900,"b":0.03,"c":48,"d":8.1,"e":0.19,"f":0.0013,"g":0.3,"g2":0.41,"m":0.0118,"p":0.0002,"p2":0.00063,"q":0.0001,"r":0.0001},
{"t":"2021-07-21T00:00","a":1800,"b":0.028,"c":47,"d":8,"e":0.18,"f":0.0012,"g":0.22,"g2":0.55,"k":0.0118,"m":0.0118,"p":0.00031,"p2":0.00044,"r":0.0001}
]},
"vconcat": [
{
 "width": 697, "height": 180,
 "data": {"name": "d"},
 "transform": [{"fold": ["a","b"], "as": ["s","v"]}, {"filter": "isValid(datum.v) && datum.v > 0"}],
 "resolve": {"axis": {"x": "independent", "y": "independent"}},
 "layer": [
  {"mark": {"type": "square", "size": 9, "opacity": 1},
   "encoding": {
    "x": {"field": "t", "type": "temporal", "scale": {"domain": [{"year":2021,"month":7,"date":18},{"year":2021,"month":7,"date":21}]},
          "axis": {"orient": "bottom", "labels": false, "title": null, "tickSize": -5, "values": [{"year":2021,"month":7,"date":18,"hours":0},{"year":2021,"month":7,"date":18,"hours":6},{"year":2021,"month":7,"date":18,"hours":12},{"year":2021,"month":7,"date":18,"hours":18},{"year":2021,"month":7,"date":19,"hours":0},{"year":2021,"month":7,"date":19,"hours":6},{"year":2021,"month":7,"date":19,"hours":12},{"year":2021,"month":7,"date":19,"hours":18},{"year":2021,"month":7,"date":20,"hours":0},{"year":2021,"month":7,"date":20,"hours":6},{"year":2021,"month":7,"date":20,"hours":12},{"year":2021,"month":7,"date":20,"hours":18},{"year":2021,"month":7,"date":21,"hours":0}]}},
    "y": {"field": "v", "type": "quantitative", "scale": {"type": "log", "domain": [0.001, 10000000], "nice": false},
          "axis": {"orient": "left", "values": [0.001,0.01,0.1,1,10,100,1000,10000,100000,1000000,10000000], "title": "1/(cm² s sr MeV)", "titlePadding": 11, "labelPadding": 19, "labelFlush": true, "labelOverlap": false,
                   "tickSize": {"condition": {"test": "abs(round(log(datum.value)/LN10)) % 2 == 0", "value": -15}, "value": -7},
                   "labelExpr": "abs(round(log(datum.value)/LN10)) % 2 == 1 ? '' : '10' + replace(replace(replace(replace(replace(replace(replace(replace(toString(round(log(datum.value)/LN10)), '-', '⁻'), '0', '⁰'), '1', '¹'), '2', '²'), '3', '³'), '4', '⁴'), '5', '⁵'), '6', '⁶')"}},
    "color": {"field": "s", "type": "nominal", "scale": {"domain": ["a","b"], "range": ["#000000","#0000ff"]},
              "legend": {"title": null, "orient": "none", "legendX": -12, "legendY": -17, "direction": "horizontal", "columnPadding": 34, "labelFontSize": 13.5, "labelLimit": 400, "symbolOpacity": 0, "symbolSize": 1, "labelOffset": 0,
                         "labelExpr": "datum.value == 'a' ? '0.035 to 0.065 MeV Electrons' : '0.7 to 4.0 Mev Electrons'", "labelColor": {"expr": "datum.value == 'b' ? '#0000ff' : '#000000'"}}}
   }},
  {"mark": {"type": "square", "size": 9, "opacity": 0},
   "encoding": {
    "x": {"field": "t", "type": "temporal", "scale": {"domain": [{"year":2021,"month":7,"date":18},{"year":2021,"month":7,"date":21}]},
          "axis": {"orient": "top", "labels": false, "title": null, "tickSize": -5, "values": [{"year":2021,"month":7,"date":18,"hours":0},{"year":2021,"month":7,"date":18,"hours":6},{"year":2021,"month":7,"date":18,"hours":12},{"year":2021,"month":7,"date":18,"hours":18},{"year":2021,"month":7,"date":19,"hours":0},{"year":2021,"month":7,"date":19,"hours":6},{"year":2021,"month":7,"date":19,"hours":12},{"year":2021,"month":7,"date":19,"hours":18},{"year":2021,"month":7,"date":20,"hours":0},{"year":2021,"month":7,"date":20,"hours":6},{"year":2021,"month":7,"date":20,"hours":12},{"year":2021,"month":7,"date":20,"hours":18},{"year":2021,"month":7,"date":21,"hours":0}]}},
    "y": {"field": "v", "type": "quantitative", "scale": {"type": "log", "domain": [0.001, 10000000], "nice": false},
          "axis": {"orient": "right", "values": [0.001,0.01,0.1,1,10,100,1000,10000,100000,1000000,10000000], "labels": false, "title": null,
                   "tickSize": {"condition": {"test": "abs(round(log(datum.value)/LN10)) % 2 == 0", "value": -15}, "value": -7}}}
   }}
 ]
},
{
 "width": 697, "height": 180,
 "data": {"name": "d"},
 "transform": [{"fold": ["c","d","e","f"], "as": ["s","v"]}, {"filter": "isValid(datum.v) && datum.v > 0"}],
 "resolve": {"axis": {"x": "independent", "y": "independent"}},
 "layer": [
  {"mark": {"type": "square", "size": 9, "opacity": 1},
   "encoding": {
    "x": {"field": "t", "type": "temporal", "scale": {"domain": [{"year":2021,"month":7,"date":18},{"year":2021,"month":7,"date":21}]},
          "axis": {"orient": "bottom", "labels": false, "title": null, "tickSize": -5, "values": [{"year":2021,"month":7,"date":18,"hours":0},{"year":2021,"month":7,"date":18,"hours":6},{"year":2021,"month":7,"date":18,"hours":12},{"year":2021,"month":7,"date":18,"hours":18},{"year":2021,"month":7,"date":19,"hours":0},{"year":2021,"month":7,"date":19,"hours":6},{"year":2021,"month":7,"date":19,"hours":12},{"year":2021,"month":7,"date":19,"hours":18},{"year":2021,"month":7,"date":20,"hours":0},{"year":2021,"month":7,"date":20,"hours":6},{"year":2021,"month":7,"date":20,"hours":12},{"year":2021,"month":7,"date":20,"hours":18},{"year":2021,"month":7,"date":21,"hours":0}]}},
    "y": {"field": "v", "type": "quantitative", "scale": {"type": "log", "domain": [0.00001, 1000000], "nice": false},
          "axis": {"orient": "left", "values": [0.00001,0.0001,0.001,0.01,0.1,1,10,100,1000,10000,100000,1000000], "title": "1/(cm² s sr MeV)", "titlePadding": 11, "labelPadding": 19, "labelFlush": true, "labelOverlap": false,
                   "tickSize": {"condition": {"test": "abs(round(log(datum.value)/LN10)) % 2 == 0", "value": -15}, "value": -7},
                   "labelExpr": "abs(round(log(datum.value)/LN10)) % 2 == 1 ? '' : '10' + replace(replace(replace(replace(replace(replace(replace(replace(toString(round(log(datum.value)/LN10)), '-', '⁻'), '0', '⁰'), '1', '¹'), '2', '²'), '3', '³'), '4', '⁴'), '5', '⁵'), '6', '⁶')"}},
    "color": {"field": "s", "type": "nominal", "scale": {"domain": ["c","d","e","f"], "range": ["#000000","#0000ff","#cc8870","#ff0000"]},
              "legend": {"title": null, "orient": "none", "legendX": -12, "legendY": -17, "direction": "horizontal", "columnPadding": 17, "labelFontSize": 13.5, "labelLimit": 400, "symbolOpacity": 0, "symbolSize": 1, "labelOffset": 0,
                         "labelExpr": "datum.value == 'c' ? '0.14-0.62 MeV H' : datum.value == 'd' ? '0.62-2.22 MeV H' : datum.value == 'e' ? '2.2-12 MeV H' : '13-100 MeV H'", "labelColor": {"expr": "datum.value == 'd' ? '#0000ff' : datum.value == 'e' ? '#cc8870' : datum.value == 'f' ? '#ff0000' : '#000000'"}}}
   }},
  {"mark": {"type": "square", "size": 9, "opacity": 0},
   "encoding": {
    "x": {"field": "t", "type": "temporal", "scale": {"domain": [{"year":2021,"month":7,"date":18},{"year":2021,"month":7,"date":21}]},
          "axis": {"orient": "top", "labels": false, "title": null, "tickSize": -5, "values": [{"year":2021,"month":7,"date":18,"hours":0},{"year":2021,"month":7,"date":18,"hours":6},{"year":2021,"month":7,"date":18,"hours":12},{"year":2021,"month":7,"date":18,"hours":18},{"year":2021,"month":7,"date":19,"hours":0},{"year":2021,"month":7,"date":19,"hours":6},{"year":2021,"month":7,"date":19,"hours":12},{"year":2021,"month":7,"date":19,"hours":18},{"year":2021,"month":7,"date":20,"hours":0},{"year":2021,"month":7,"date":20,"hours":6},{"year":2021,"month":7,"date":20,"hours":12},{"year":2021,"month":7,"date":20,"hours":18},{"year":2021,"month":7,"date":21,"hours":0}]}},
    "y": {"field": "v", "type": "quantitative", "scale": {"type": "log", "domain": [0.00001, 1000000], "nice": false},
          "axis": {"orient": "right", "values": [0.00001,0.0001,0.001,0.01,0.1,1,10,100,1000,10000,100000,1000000], "labels": false, "title": null,
                   "tickSize": {"condition": {"test": "abs(round(log(datum.value)/LN10)) % 2 == 0", "value": -15}, "value": -7}}}
   }}
 ]
},
{
 "width": 697, "height": 180,
 "data": {"name": "d"},
 "transform": [{"fold": ["g","g2","g3","k","m"], "as": ["s","v"]}, {"filter": "isValid(datum.v) && datum.v > 0"}],
 "resolve": {"axis": {"x": "independent", "y": "independent"}},
 "layer": [
  {"mark": {"type": "square", "size": 6, "opacity": 1},
   "encoding": {
    "x": {"field": "t", "type": "temporal", "scale": {"domain": [{"year":2021,"month":7,"date":18},{"year":2021,"month":7,"date":21}]},
          "axis": {"orient": "bottom", "labels": false, "title": null, "tickSize": -5, "values": [{"year":2021,"month":7,"date":18,"hours":0},{"year":2021,"month":7,"date":18,"hours":6},{"year":2021,"month":7,"date":18,"hours":12},{"year":2021,"month":7,"date":18,"hours":18},{"year":2021,"month":7,"date":19,"hours":0},{"year":2021,"month":7,"date":19,"hours":6},{"year":2021,"month":7,"date":19,"hours":12},{"year":2021,"month":7,"date":19,"hours":18},{"year":2021,"month":7,"date":20,"hours":0},{"year":2021,"month":7,"date":20,"hours":6},{"year":2021,"month":7,"date":20,"hours":12},{"year":2021,"month":7,"date":20,"hours":18},{"year":2021,"month":7,"date":21,"hours":0}]}},
    "y": {"field": "v", "type": "quantitative", "scale": {"type": "log", "domain": [0.001, 10000], "nice": false},
          "axis": {"orient": "left", "values": [0.001,0.01,0.1,1,10,100,1000,10000], "title": "1/(cm² s sr MeV/nuc.)", "titlePadding": 11, "labelPadding": 19, "labelFlush": true, "labelOverlap": false, "tickSize": -15,
                   "labelExpr": "'10' + replace(replace(replace(replace(replace(replace(replace(replace(toString(round(log(datum.value)/LN10)), '-', '⁻'), '0', '⁰'), '1', '¹'), '2', '²'), '3', '³'), '4', '⁴'), '5', '⁵'), '6', '⁶')"}},
    "color": {"field": "s", "type": "nominal", "scale": {"domain": ["g","g2","g3","k","m"], "range": ["#000000","#000000","#000000","#0000ff","#ff0000"]},
              "legend": {"title": null, "values": ["g","k","m"], "orient": "none", "legendX": -12, "legendY": -17, "direction": "horizontal", "columnPadding": 19, "labelFontSize": 13.5, "labelLimit": 400, "symbolOpacity": 0, "symbolSize": 1, "labelOffset": 0,
                         "labelExpr": "datum.value == 'k' ? '0.12-1.08 MeV/n CNO' : datum.value == 'm' ? '0.12-1.08 MeV Fe' : '0.12-1.08 MeV/n He'", "labelColor": {"expr": "datum.value == 'k' ? '#0000ff' : datum.value == 'm' ? '#ff0000' : '#000000'"}}}
   }},
  {"mark": {"type": "square", "size": 6, "opacity": 0},
   "encoding": {
    "x": {"field": "t", "type": "temporal", "scale": {"domain": [{"year":2021,"month":7,"date":18},{"year":2021,"month":7,"date":21}]},
          "axis": {"orient": "top", "labels": false, "title": null, "tickSize": -5, "values": [{"year":2021,"month":7,"date":18,"hours":0},{"year":2021,"month":7,"date":18,"hours":6},{"year":2021,"month":7,"date":18,"hours":12},{"year":2021,"month":7,"date":18,"hours":18},{"year":2021,"month":7,"date":19,"hours":0},{"year":2021,"month":7,"date":19,"hours":6},{"year":2021,"month":7,"date":19,"hours":12},{"year":2021,"month":7,"date":19,"hours":18},{"year":2021,"month":7,"date":20,"hours":0},{"year":2021,"month":7,"date":20,"hours":6},{"year":2021,"month":7,"date":20,"hours":12},{"year":2021,"month":7,"date":20,"hours":18},{"year":2021,"month":7,"date":21,"hours":0}]}},
    "y": {"field": "v", "type": "quantitative", "scale": {"type": "log", "domain": [0.001, 10000], "nice": false},
          "axis": {"orient": "right", "values": [0.001,0.01,0.1,1,10,100,1000,10000], "labels": false, "title": null, "tickSize": -15}}
   }}
 ]
},
{
 "width": 697, "height": 180,
 "data": {"name": "d"},
 "transform": [{"fold": ["p","p2","p3","q","r"], "as": ["s","v"]}, {"filter": "isValid(datum.v) && datum.v > 0"}],
 "resolve": {"axis": {"x": "independent", "y": "independent"}},
 "layer": [
  {"mark": {"type": "square", "size": 6, "opacity": 1},
   "encoding": {
    "x": {"field": "t", "type": "temporal", "scale": {"domain": [{"year":2021,"month":7,"date":18},{"year":2021,"month":7,"date":21}]},
          "axis": {"orient": "bottom", "labelExpr": "hours(datum.value) == 0 ? timeFormat(datum.value, '%d-%b') : ''", "labelFlush": false, "labelOverlap": false, "labelPadding": 11, "labelFontSize": 14, "tickSize": -5,
                   "values": [{"year":2021,"month":7,"date":18,"hours":0},{"year":2021,"month":7,"date":18,"hours":6},{"year":2021,"month":7,"date":18,"hours":12},{"year":2021,"month":7,"date":18,"hours":18},{"year":2021,"month":7,"date":19,"hours":0},{"year":2021,"month":7,"date":19,"hours":6},{"year":2021,"month":7,"date":19,"hours":12},{"year":2021,"month":7,"date":19,"hours":18},{"year":2021,"month":7,"date":20,"hours":0},{"year":2021,"month":7,"date":20,"hours":6},{"year":2021,"month":7,"date":20,"hours":12},{"year":2021,"month":7,"date":20,"hours":18},{"year":2021,"month":7,"date":21,"hours":0}],
                   "title": "Start: 18-Jul-2021 00:00 UTC", "titleX": 320, "titleY": 29, "titleAlign": "center", "titleBaseline": "middle"}},
    "y": {"field": "v", "type": "quantitative", "scale": {"type": "log", "domain": [0.00001, 1000], "nice": false},
          "axis": {"orient": "left", "values": [0.00001,0.0001,0.001,0.01,0.1,1,10,100,1000], "title": "1/(cm² s sr MeV/nuc.)", "titlePadding": 11, "labelPadding": 19, "labelFlush": true, "labelOverlap": false,
                   "tickSize": {"condition": {"test": "abs(round(log(datum.value)/LN10)) % 2 == 0", "value": -15}, "value": -7},
                   "labelExpr": "abs(round(log(datum.value)/LN10)) % 2 == 1 ? '' : '10' + replace(replace(replace(replace(replace(replace(replace(replace(toString(round(log(datum.value)/LN10)), '-', '⁻'), '0', '⁰'), '1', '¹'), '2', '²'), '3', '³'), '4', '⁴'), '5', '⁵'), '6', '⁶')"}},
    "color": {"field": "s", "type": "nominal", "scale": {"domain": ["p","p2","p3","q","r"], "range": ["#000000","#000000","#000000","#0000ff","#ff0000"]},
              "legend": {"title": null, "values": ["p","q","r"], "orient": "none", "legendX": -12, "legendY": -17, "direction": "horizontal", "columnPadding": 19, "labelFontSize": 13.5, "labelLimit": 400, "symbolOpacity": 0, "symbolSize": 1, "labelOffset": 0,
                         "labelExpr": "datum.value == 'q' ? '4 to 12 MeV/n CNO' : datum.value == 'r' ? '4 to 12 MeV Fe' : '4 to 12 MeV/n He'", "labelColor": {"expr": "datum.value == 'q' ? '#0000ff' : datum.value == 'r' ? '#ff0000' : '#000000'"}}}
   }},
  {"mark": {"type": "square", "size": 6, "opacity": 0},
   "encoding": {
    "x": {"field": "t", "type": "temporal", "scale": {"domain": [{"year":2021,"month":7,"date":18},{"year":2021,"month":7,"date":21}]},
          "axis": {"orient": "top", "labels": false, "title": null, "tickSize": -5, "values": [{"year":2021,"month":7,"date":18,"hours":0},{"year":2021,"month":7,"date":18,"hours":6},{"year":2021,"month":7,"date":18,"hours":12},{"year":2021,"month":7,"date":18,"hours":18},{"year":2021,"month":7,"date":19,"hours":0},{"year":2021,"month":7,"date":19,"hours":6},{"year":2021,"month":7,"date":19,"hours":12},{"year":2021,"month":7,"date":19,"hours":18},{"year":2021,"month":7,"date":20,"hours":0},{"year":2021,"month":7,"date":20,"hours":6},{"year":2021,"month":7,"date":20,"hours":12},{"year":2021,"month":7,"date":20,"hours":18},{"year":2021,"month":7,"date":21,"hours":0}]}},
    "y": {"field": "v", "type": "quantitative", "scale": {"type": "log", "domain": [0.00001, 1000], "nice": false},
          "axis": {"orient": "right", "values": [0.00001,0.0001,0.001,0.01,0.1,1,10,100,1000], "labels": false, "title": null,
                   "tickSize": {"condition": {"test": "abs(round(log(datum.value)/LN10)) % 2 == 0", "value": -15}, "value": -7}}}
   }}
 ]
}
],
"config": {
 "font": "DejaVu Sans",
 "view": {"stroke": "#000000", "strokeWidth": 1},
 "axis": {"domain": false, "grid": false, "tickColor": "#000000", "labelFont": "DejaVu Sans", "titleFont": "DejaVu Sans", "labelFontSize": 13.5, "titleFontSize": 13.5, "titleFontWeight": "normal", "labelColor": "#000000", "titleColor": "#000000", "tickWidth": 1},
 "legend": {"labelFont": "DejaVu Sans"}
}
}
